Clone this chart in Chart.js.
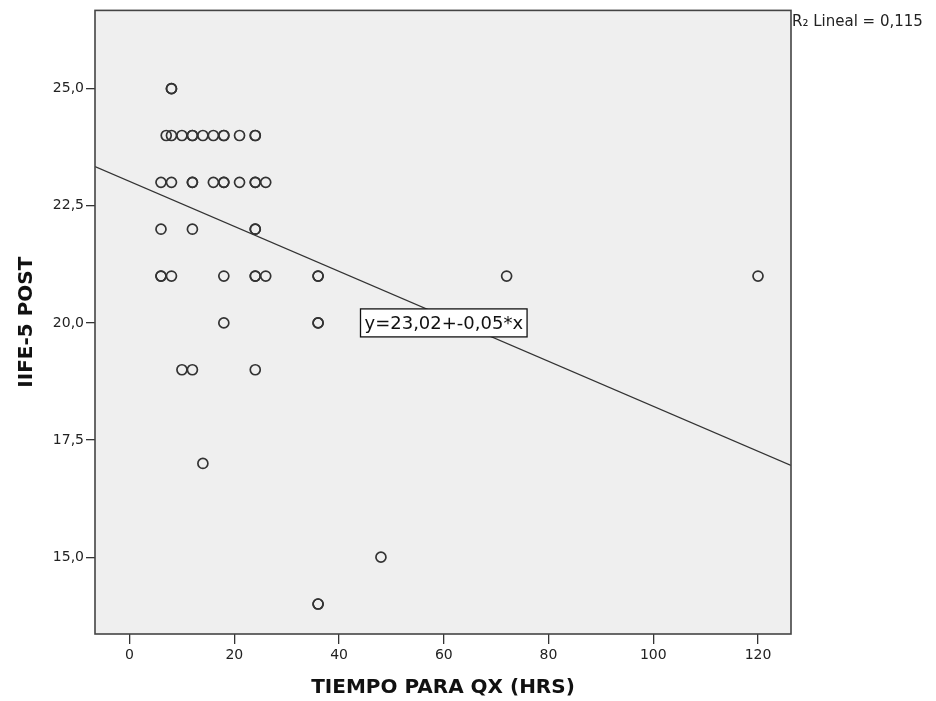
<!DOCTYPE html>
<html lang="es">
<head>
    <meta charset="UTF-8">
    <title>IIFE-5 POST vs Tiempo para QX</title>
    <script src="https://cdn.jsdelivr.net/npm/chart.js"></script>
    <style>
        html, body { margin: 0; padding: 0; background: #fff; }
        #wrap { width: 936px; height: 701px; }
    </style>
</head>
<body>
    <div id="wrap"><canvas id="chart" width="936" height="701"></canvas></div>

    <script>
        // Data (duplicates = bolder circles)
        const tiempoQx = [
            8, 8,
            7, 8, 10, 12, 12, 14, 16, 18, 18, 21, 24, 24,
            6, 8, 12, 12, 16, 18, 18, 21, 24, 24, 26,
            6, 12, 24, 24,
            6, 6, 8, 18, 24, 24, 26, 36, 36, 72, 120,
            18, 36, 36,
            10, 12, 24,
            14,
            48,
            36, 36
        ];
        const iifePost = [
            25, 25,
            24, 24, 24, 24, 24, 24, 24, 24, 24, 24, 24, 24,
            23, 23, 23, 23, 23, 23, 23, 23, 23, 23, 23,
            22, 22, 22, 22,
            21, 21, 21, 21, 21, 21, 21, 21, 21, 21, 21,
            20, 20, 20,
            19, 19, 19,
            17,
            15,
            14, 14
        ];

        // Linear fit
        const fitIntercept = 23.02;
        const fitSlope = -0.048;
        const fitLabel = 'y=23,02+-0,05*x';
        const r2Label = 'R\u2082 Lineal = 0,115';

        // Axes
        const xMin = -6.6, xMax = 126.3;
        const yMin = 13.36, yMax = 26.67;
        const xTicks = [0, 20, 40, 60, 80, 100, 120];
        const yTicks = [15, 17.5, 20, 22.5, 25];

        const points = tiempoQx.map((x, i) => ({ x: x, y: iifePost[i] }));
        const fitLine = [xMin, xMax].map(x => ({ x: x, y: fitIntercept + fitSlope * x }));

        const ink = '#333';
        const fontFam = "'DejaVu Sans', sans-serif";

        const frame = {
            id: 'frame',
            beforeDatasetsDraw(chart) {
                const { ctx, chartArea: a } = chart;
                ctx.save();
                ctx.fillStyle = '#efefef';
                ctx.fillRect(a.left, a.top, a.right - a.left, a.bottom - a.top);
                ctx.restore();
            },
            afterDatasetsDraw(chart) {
                const { ctx, chartArea: a, scales } = chart;
                ctx.save();
                ctx.strokeStyle = '#444';
                ctx.lineWidth = 1.6;
                ctx.strokeRect(a.left, a.top, a.right - a.left, a.bottom - a.top);

                // equation box
                ctx.font = '18px ' + fontFam;
                const cx = scales.x.getPixelForValue(60);
                const cy = scales.y.getPixelForValue(20);
                const w = ctx.measureText(fitLabel).width + 8;
                const h = 28;
                ctx.fillStyle = '#fff';
                ctx.fillRect(cx - w / 2, cy - h / 2, w, h);
                ctx.strokeStyle = '#111';
                ctx.lineWidth = 1.3;
                ctx.strokeRect(cx - w / 2, cy - h / 2, w, h);
                ctx.fillStyle = '#111';
                ctx.textAlign = 'center';
                ctx.textBaseline = 'middle';
                ctx.fillText(fitLabel, cx, cy + 1);

                // R2 note, outside the plot on the right
                ctx.font = '15px ' + fontFam;
                ctx.textAlign = 'left';
                ctx.fillStyle = '#222';
                ctx.fillText(r2Label, a.right + 1, a.top + 12);
                ctx.restore();
            }
        };

        const ctx = document.getElementById('chart').getContext('2d');
        new Chart(ctx, {
            type: 'scatter',
            data: {
                datasets: [
                    {
                        type: 'scatter',
                        data: points,
                        pointRadius: 5,
                        pointHoverRadius: 5,
                        pointBorderWidth: 1.7,
                        borderColor: ink,
                        backgroundColor: 'rgba(0,0,0,0)'
                    },
                    {
                        type: 'line',
                        data: fitLine,
                        borderColor: ink,
                        borderWidth: 1.3,
                        pointRadius: 0,
                        fill: false
                    }
                ]
            },
            options: {
                responsive: false,
                animation: false,
                layout: { padding: { left: 0, right: 145, top: 8, bottom: 0 } },
                plugins: { legend: { display: false }, tooltip: { enabled: false } },
                scales: {
                    x: {
                        type: 'linear',
                        min: xMin,
                        max: xMax,
                        afterBuildTicks: s => { s.ticks = xTicks.map(v => ({ value: v })); },
                        afterFit: s => { s.height = 67; },
                        border: { display: false },
                        grid: { drawOnChartArea: false, tickLength: 10, color: ink, lineWidth: 1.3 },
                        ticks: { color: '#222', padding: 3, font: { family: fontFam, size: 14 }, callback: v => String(v) },
                        title: {
                            display: true, text: 'TIEMPO PARA QX (HRS)', color: '#111',
                            font: { family: fontFam, size: 20, weight: 'bold' }, padding: { top: 0, bottom: 1 }
                        }
                    },
                    y: {
                        type: 'linear',
                        min: yMin,
                        max: yMax,
                        afterBuildTicks: s => { s.ticks = yTicks.map(v => ({ value: v })); },
                        afterFit: s => { s.width = 95; },
                        border: { display: false },
                        grid: { drawOnChartArea: false, tickLength: 9, color: ink, lineWidth: 1.3 },
                        ticks: {
                            color: '#222', padding: 2, font: { family: fontFam, size: 14 },
                            callback: v => v.toFixed(1).replace('.', ',')
                        },
                        title: {
                            display: true, text: 'IIFE-5 POST', color: '#111',
                            font: { family: fontFam, size: 20, weight: 'bold' }, padding: { top: 15, bottom: 0 }
                        }
                    }
                }
            },
            plugins: [frame]
        });
    </script>
</body>
</html>
